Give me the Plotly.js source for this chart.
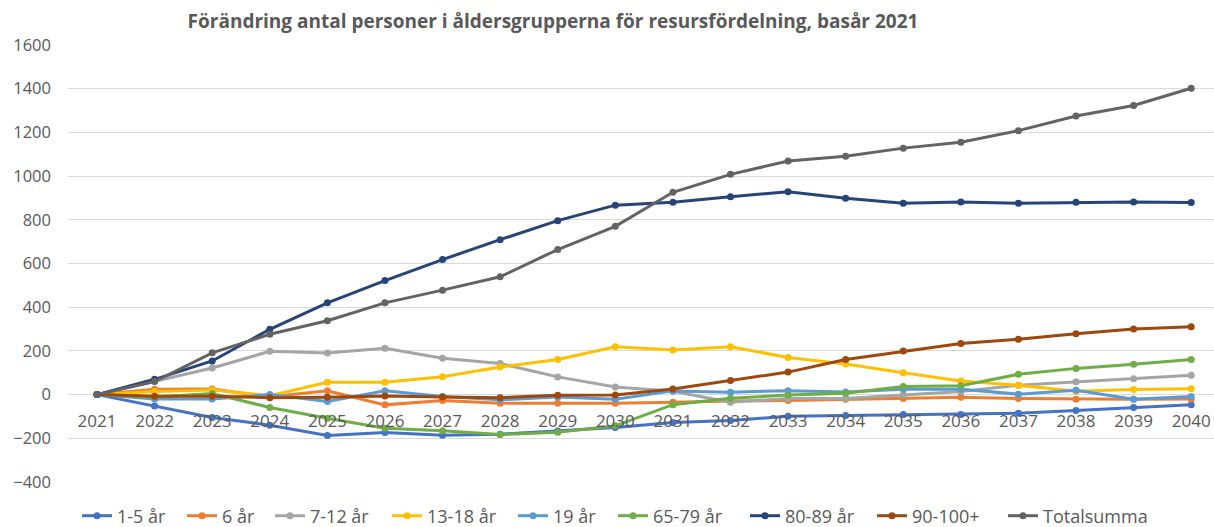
<!DOCTYPE html>
<html>
<head>
<meta charset="utf-8">
<script src="https://cdn.plot.ly/plotly-3.0.1.min.js"></script>
<style>html,body{margin:0;padding:0;background:#fff;}#chart{width:1214px;height:527px;}</style>
</head>
<body>
<div id="chart"></div>
<script>
const years = ["2021","2022","2023","2024","2025","2026","2027","2028","2029","2030","2031","2032","2033","2034","2035","2036","2037","2038","2039","2040"];
const seriesNames = ["1-5 år","6 år","7-12 år","13-18 år","19 år","65-79 år","80-89 år","90-100+","Totalsumma"];
const v1_5    = [0,-52,-105,-140,-187,-173,-186,-181,-167,-151,-128,-119,-99,-96,-91,-91,-85,-73,-59,-46];
const v6      = [0,24,26,-10,18,-47,-27,-40,-40,-40,-35,-29,-27,-21,-18,-12,-18,-21,-21,-20];
const v7_12   = [0,62,122,198,190,212,166,142,81,35,15,-35,-18,-18,-2,14,43,59,73,88];
const v13_18  = [0,14,21,-5,56,56,82,126,161,219,204,219,170,140,100,62,43,15,23,27];
const v19     = [0,-20,-20,0,-32,18,-9,-24,-11,-21,17,11,18,12,24,24,2,20,-21,-9];
const v65_79  = [0,-11,5,-59,-108,-154,-166,-183,-172,-143,-46,-17,-2,6,37,41,93,120,139,161];
const v80_89  = [0,70,154,299,420,522,618,709,796,867,880,906,928,899,876,882,876,880,882,879];
const v90_100 = [0,-8,-8,-14,-12,-6,-11,-14,-3,-2,26,64,103,161,199,234,253,279,300,310];
const vTotal  = [0,60,191,276,338,420,478,539,664,770,926,1008,1069,1091,1128,1155,1208,1275,1323,1402];
const yTicks  = [-400,-200,0,200,400,600,800,1000,1200,1400,1600];
const titleText = "Förändring antal personer i åldersgrupperna för resursfördelning, basår 2021";

const allValues = [v1_5, v6, v7_12, v13_18, v19, v65_79, v80_89, v90_100, vTotal];
const colors = ["#4472C4","#ED7D31","#A5A5A5","#FFC000","#5B9BD5","#70AD47","#264478","#9E480E","#636363"];
// legend entry text start positions (px, layout only)
const legendTextX = [117, 222, 310, 427, 553, 653, 785, 912, 1043];

const traces = allValues.map((vals, i) => ({
  type: "scatter",
  mode: "lines+markers",
  name: seriesNames[i],
  x: years,
  y: vals,
  line: {color: colors[i], width: 3},
  marker: {color: colors[i], size: 7, symbol: "circle"},
  cliponaxis: false,
  legend: i === 0 ? "legend" : "legend" + (i + 1)
}));

const layout = {
  width: 1214, height: 527,
  margin: {l: 68, r: 0, t: 45, b: 45},
  paper_bgcolor: "#ffffff",
  plot_bgcolor: "#ffffff",
  font: {family: "'Open Sans', sans-serif", color: "#595959"},
  title: {
    text: "<b>" + titleText + "</b>",
    font: {family: "'Open Sans', sans-serif", size: 19, color: "#595959"},
    xref: "container", x: 553/1214, xanchor: "center",
    yref: "container", y: 1 - 21/527, yanchor: "middle"
  },
  xaxis: {
    type: "category",
    range: [-0.504, 19.396],
    anchor: "free",
    position: 0.2,
    showgrid: false,
    showline: false,
    zeroline: false,
    ticks: "",
    ticklabelstandoff: 14,
    tickfont: {size: 17, color: "#595959"},
    fixedrange: true
  },
  yaxis: {
    range: [-400, 1600],
    tickvals: yTicks,
    showgrid: true,
    gridcolor: "#D9D9D9",
    gridwidth: 1,
    zeroline: true,
    zerolinecolor: "#D9D9D9",
    zerolinewidth: 1,
    showline: false,
    ticks: "",
    ticklabelstandoff: 16,
    tickfont: {size: 16.5, color: "#595959"},
    fixedrange: true
  },
  showlegend: true
};

legendTextX.forEach((tx, i) => {
  const key = i === 0 ? "legend" : "legend" + (i + 1);
  layout[key] = {
    orientation: "h",
    xref: "container", x: (tx - 40) / 1214, xanchor: "left",
    yref: "container", y: 1 - 516/527, yanchor: "middle",
    font: {size: 18, color: "#595959"},
    itemwidth: 30,
    bgcolor: "rgba(0,0,0,0)",
    borderwidth: 0
  };
});

Plotly.newPlot("chart", traces, layout, {displayModeBar: false, staticPlot: true});
</script>
</body>
</html>
